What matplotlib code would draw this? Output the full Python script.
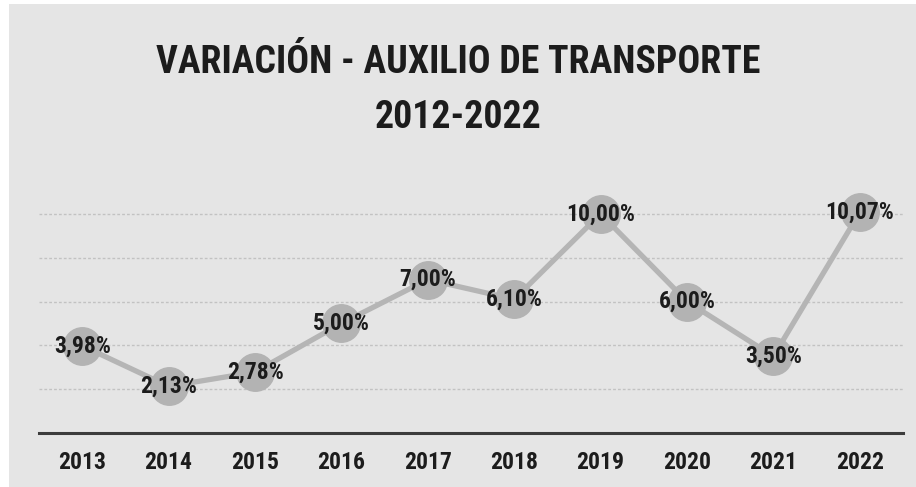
import matplotlib
matplotlib.use("Agg")
import matplotlib.pyplot as plt
from matplotlib import font_manager
from matplotlib.patches import Rectangle

# Annual variation of the transport allowance
years = ["2013", "2014", "2015", "2016", "2017", "2018", "2019", "2020", "2021", "2022"]
variation = [3.98, 2.13, 2.78, 5.00, 7.00, 6.10, 10.00, 6.00, 3.50, 10.07]
labels = ["3,98%", "2,13%", "2,78%", "5,00%", "7,00%", "6,10%", "10,00%", "6,00%", "3,50%", "10,07%"]

title_lines = ["VARIACIÓN - AUXILIO DE TRANSPORTE", "2012-2022"]


def pick_condensed_bold():
    """Return FontProperties for the narrowest bold face available."""
    prefs = ["Roboto Condensed", "Open Sans Condensed", "Liberation Sans Narrow",
             "DejaVu Sans Condensed", "Noto Sans Condensed"]
    entries = font_manager.fontManager.ttflist
    def is_bold(f):
        w = f.weight
        return (isinstance(w, int) and w >= 600) or (isinstance(w, str) and "bold" in w.lower())
    for name in prefs:
        for f in entries:
            if f.name == name and is_bold(f) and f.style == "normal":
                return font_manager.FontProperties(fname=f.fname)
    for f in entries:
        if f.stretch in ("condensed", "semi-condensed", "extra-condensed", "ultra-condensed") and is_bold(f):
            return font_manager.FontProperties(fname=f.fname)
    return font_manager.FontProperties(family="DejaVu Sans", weight="bold")


fp = pick_condensed_bold()

W, H, DPI = 916, 487, 100
fig = plt.figure(figsize=(W / DPI, H / DPI), dpi=DPI, facecolor="white")

# paper-grey panel behind the chart
fig.patches.append(Rectangle((9 / W, 0), 1 - 9 / W, 1 - 4 / H, transform=fig.transFigure,
                             facecolor="#e5e5e5", edgecolor="none", zorder=-5))

ax = fig.add_axes([39 / W, 1 - 433 / H, (903 - 39) / W, (433 - 170) / H])
ax.set_facecolor("none")
ax.set_zorder(2)

x = list(range(len(years)))
ax.plot(x, variation, color="#b5b5b5", lw=3.8, marker="o", markersize=27,
        markerfacecolor="#b3b3b3", markeredgecolor="#b3b3b3", zorder=3, solid_capstyle="round")

for xi, v, lab in zip(x, variation, labels):
    ax.text(xi, v, lab, ha="center", va="center", fontproperties=fp, fontsize=17,
            color="#1c1c1c", zorder=4)

ax.set_xlim(-0.5, len(years) - 0.5)
ax.set_ylim(0, 12)
ax.set_xticks(x)
ax.set_xticklabels(years, fontproperties=fp, fontsize=17, color="#1c1c1c")
ax.tick_params(axis="x", length=0, pad=13)
ax.set_yticks([2, 4, 6, 8, 10])
ax.tick_params(axis="y", length=0, labelleft=False)
ax.grid(axis="y", color="#c2c2c2", lw=1.0, ls=(0, (2, 1.5)))
ax.set_axisbelow(True)
for side in ("top", "right", "left"):
    ax.spines[side].set_visible(False)
ax.spines["bottom"].set_color("#3c3c3c")
ax.spines["bottom"].set_linewidth(2.2)

t1 = fig.text(0.5, 1 - 73 / H, title_lines[0], ha="center", va="baseline",
              fontproperties=fp, fontsize=34, color="#1c1c1c")
t2 = fig.text(0.5, 1 - 128 / H, title_lines[1], ha="center", va="baseline",
              fontproperties=fp, fontsize=34, color="#1c1c1c")

# fit the title's first line to its width on the page
renderer = fig.canvas.get_renderer()
w1 = t1.get_window_extent(renderer).width
size = min(42, 34 * 605 / w1)
t1.set_fontsize(size)
t2.set_fontsize(size)

fig.savefig("out.png", dpi=DPI, facecolor=fig.get_facecolor())
